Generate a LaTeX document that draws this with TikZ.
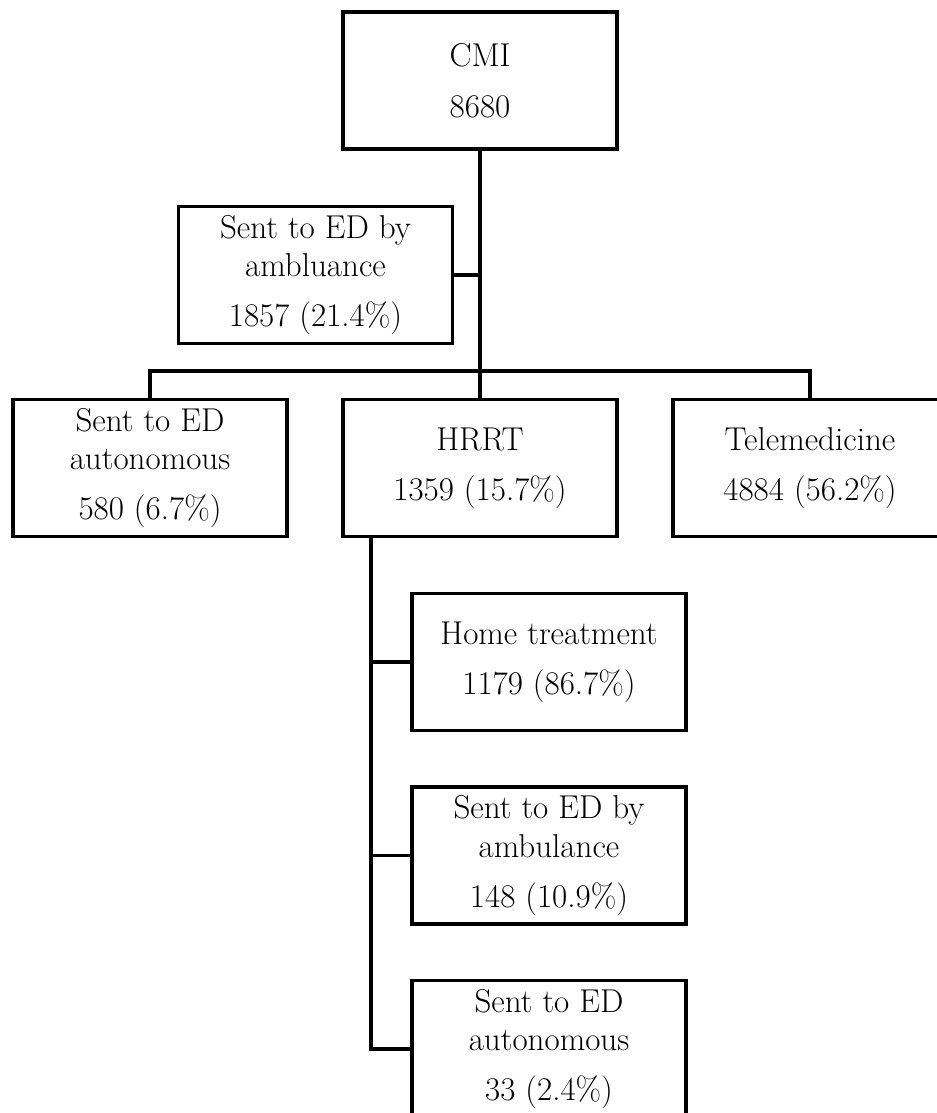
\documentclass[tikz,border=0pt]{standalone}
\usepackage{tikz}

\tikzset{
  box/.style={draw, line width=2.4pt, minimum width=6.85cm, minimum height=3.425cm,
    align=center, inner sep=0pt, font=\fontsize{23.5}{27.5}\selectfont},
  link/.style={line width=2.4pt}
}

\begin{document}
\begin{tikzpicture}
\useasboundingbox (0, 0) rectangle (23.4, 27.825);

\node[box] (cmi) at(12, 25.8125) {CMI\\[9pt]8680};
\node[box] (amb1) at(7.8875, 20.95) {Sent to ED by\\ambluance\\[8pt]1857 (21.4\%)};

\node[box] (auto1) at(3.75, 16.125) {Sent to ED\\autonomous\\[8pt]580 (6.7\%)};
\node[box] (hrrt) at(12, 16.125) {HRRT\\[8pt]1359 (15.7\%)};
\node[box] (tele) at(20.25, 16.125) {Telemedicine\\[8pt]4884 (56.2\%)};

\node[box] (home) at(13.725, 11.275) {Home treatment\\[8pt]1179 (86.7\%)};
\node[box] (amb2) at(13.725, 6.4375) {Sent to ED by\\ambulance\\[8pt]148 (10.9\%)};
\node[box] (auto2) at(13.725, 1.6) {Sent to ED\\autonomous\\[8pt]33 (2.4\%)};

\coordinate (bar) at(12, 18.55);
\coordinate (trunk) at(9.275, 1.6);

\draw[link] (cmi.south) -- (hrrt.north);
\draw[link] (amb1.east) -- (amb1.east -| cmi.south);
\draw[link] (auto1.north) |- (bar) -| (tele.north);

\draw[link] (trunk |- hrrt.south) -- (trunk) -- (auto2.west);
\draw[link] (home.west) -- (home.west -| trunk);
\draw[link] (amb2.west) -- (amb2.west -| trunk);
\end{tikzpicture}
\end{document}
